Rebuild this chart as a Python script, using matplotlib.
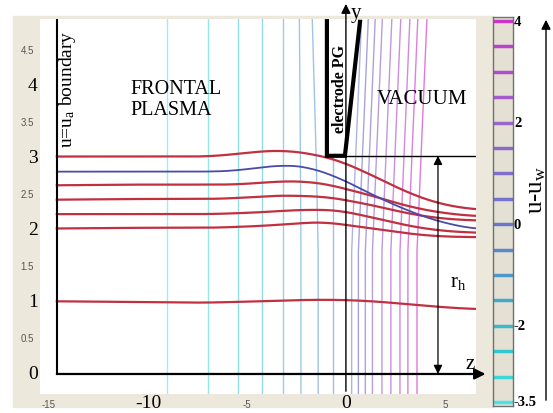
import numpy as np
import matplotlib
matplotlib.use("Agg")
import matplotlib.pyplot as plt
from matplotlib.patches import Rectangle, FancyArrowPatch
from matplotlib.colors import LinearSegmentedColormap, Normalize

plt.rcParams['font.family'] = ['Liberation Serif', 'DejaVu Serif']
plt.rcParams['mathtext.fontset'] = 'custom'
plt.rcParams['mathtext.rm'] = 'Liberation Serif'
plt.rcParams['mathtext.it'] = 'Liberation Serif:italic'

# ---------------- data ----------------
# sample positions along z for the beam-boundary lines
line_z = [-14.6, -11.0, -7.0, -5.7, -4.0, -3.0, -2.0, -1.0, -0.3, 1.4, 3.1, 4.75, 6.57]
line_top = [3.02, 3.02, 3.02, 3.05, 3.10, 3.10, 3.07, 3.01, 2.96, 2.75, 2.52, 2.36, 2.28]
line_blue = [2.81, 2.81, 2.81, 2.82, 2.88, 2.90, 2.88, 2.79, 2.72, 2.48, 2.27, 2.11, 2.01]
line_26 = [2.62, 2.63, 2.63, 2.63, 2.66, 2.68, 2.67, 2.64, 2.59, 2.47, 2.33, 2.24, 2.19]
line_24 = [2.42, 2.43, 2.43, 2.44, 2.47, 2.48, 2.47, 2.46, 2.43, 2.34, 2.23, 2.16, 2.13]
line_22 = [2.22, 2.22, 2.22, 2.23, 2.25, 2.27, 2.28, 2.28, 2.27, 2.17, 2.06, 1.99, 1.96]
line_20 = [2.02, 2.03, 2.03, 2.04, 2.06, 2.08, 2.10, 2.11, 2.08, 2.02, 1.95, 1.91, 1.90]
line_10 = [1.01, 1.00, 0.99, 1.00, 1.01, 1.02, 1.03, 1.03, 1.03, 1.01, 0.97, 0.93, 0.90]

# equipotential lines: z at bottom, at y=3 and at top, top end y, potential level
contour_z_bottom = [-9.06, -6.95, -5.44, -4.23, -3.20, -2.27, -1.40, -0.64,
                    0.29, 0.63, 0.98, 1.34, 1.82, 2.27, 2.73, 3.13, 3.59]
contour_z_mid = [-9.06, -6.95, -5.44, -4.23, -3.20, -2.30, -1.50, -0.64,
                 0.49, 0.83, 1.18, 1.54, 2.02, 2.47, 2.93, 3.33, 3.79]
contour_z_top = [-9.06, -6.95, -5.44, -4.23, -3.20, -2.35, -1.70, -0.64,
                 0.79, 1.13, 1.48, 1.84, 2.32, 2.77, 3.23, 3.63, 4.09]
contour_y_top = [4.93, 4.93, 4.93, 4.93, 4.93, 4.93, 4.93, 3.03,
                 4.93, 4.93, 4.93, 4.93, 4.93, 4.93, 4.93, 4.93, 4.93]
contour_levels = [-3.5, -3.0, -2.5, -2.0, -1.6, -1.2, -0.8, -0.4,
                  0.2, 0.7, 1.2, 1.7, 2.2, 2.7, 3.2, 3.6, 4.0]

electrode_z = [-0.96, -0.96, -0.05, 0.71]
electrode_y = [4.90, 3.03, 3.03, 4.89]

cbar_levels = [4.0, 3.5, 3.0, 2.5, 2.0, 1.5, 1.0, 0.5, 0.0, -0.5, -1.0,
               -1.5, -2.0, -2.5, -3.0, -3.5]
cbar_labels = ['4', '2', '0', '-2', '-3.5']
cbar_label_vals = [4, 2, 0, -2, -3.5]

big_y_ticks = [4, 3, 2, 1, 0]
small_y_ticks = [4.5, 3.5, 2.5, 1.5, 0.5]
big_x_ticks = [-10, 0]
small_x_ticks = [-15, -5, 5]

# ---------------- figure ----------------
W, H = 553, 414
fig = plt.figure(figsize=(W / 100, H / 100), dpi=100)

def fx(px):
    return px / W

def fy(py):
    return 1 - py / H

# beige frame
fig.patches.append(Rectangle((fx(13), fy(408)), fx(493) - fx(13), fy(17) - fy(408),
                             transform=fig.transFigure, color='#ece9dc', zorder=-5))

ax = fig.add_axes([fx(40), fy(395), fx(476) - fx(40), fy(20) - fy(395)])
ax.set_zorder(1)
ax.set_facecolor('white')
for s in ax.spines.values():
    s.set_visible(False)
ax.set_xticks([])
ax.set_yticks([])
ZMIN, ZMAX, YMIN, YMAX = -15.45, 6.57, -0.278, 4.93
ax.set_xlim(ZMIN, ZMAX)
ax.set_ylim(YMIN, YMAX)

cmap = LinearSegmentedColormap.from_list(
    'uw', [(0.0, '#44e6e6'), (0.133, '#33c8cc'), (0.267, '#44a8cc'),
           (0.467, '#6677cc'), (0.733, '#9966cc'), (1.0, '#cc33cc')])
norm = Normalize(-3.5, 4.0)

def light(c, f):
    c = np.array(c[:3])
    return tuple(1 - f * (1 - c))

# equipotential lines
for zb, zm, zt, yt, lv in zip(contour_z_bottom, contour_z_mid, contour_z_top,
                              contour_y_top, contour_levels):
    col = light(cmap(norm(lv)), 0.55 if lv < 0.5 else 0.65)
    if yt < 4:
        ax.plot([zb, zb], [YMIN, yt], color=col, lw=1.0, zorder=2)
    else:
        ax.plot([zb, zb, zm, zt], [YMIN, 1.7, 3.0, yt], color=col, lw=1.0, zorder=2)

# beam lines (smoothed)
zf = np.linspace(line_z[0], line_z[-1], 600)
def smooth(vals):
    yf = np.interp(zf, line_z, vals)
    k = 25
    pad = np.concatenate([np.full(k, yf[0]), yf, np.full(k, yf[-1])])
    ker = np.ones(2 * k + 1) / (2 * k + 1)
    return np.convolve(pad, ker, mode='valid')

for vals in [line_top, line_26, line_24, line_22, line_20, line_10]:
    ax.plot(zf, smooth(vals), color='#c03040', lw=1.6, zorder=4)
ax.plot(zf, smooth(line_blue), color='#4a4aa8', lw=1.3, zorder=4)

# boundary line
ax.plot([-14.6, -14.6], [0, YMAX], color='k', lw=1.5, zorder=5)

# electrode
ax.plot(electrode_z, electrode_y, color='k', lw=3, solid_joinstyle='miter', zorder=6)
ax.plot([electrode_z[2], ZMAX], [3.03, 3.03], color='k', lw=1.0, zorder=6)

# axes arrows
ax.annotate('', xy=(7.05, 0), xytext=(-14.6, 0), annotation_clip=False,
            arrowprops=dict(arrowstyle='-|>', color='k', lw=1.6, mutation_scale=16,
                            shrinkA=0, shrinkB=0), zorder=7)
ax.annotate('', xy=(0, 5.14), xytext=(0, -0.24), annotation_clip=False,
            arrowprops=dict(arrowstyle='-|>', color='k', lw=1.0, mutation_scale=14,
                            shrinkA=0, shrinkB=0), zorder=7)
ax.annotate('', xy=(4.65, 3.03), xytext=(4.65, 0.0), annotation_clip=False,
            arrowprops=dict(arrowstyle='<|-|>', color='k', lw=0.9, mutation_scale=13,
                            shrinkA=0, shrinkB=0), zorder=7)

# texts
ax.text(-14.05, 3.97, r'u=u$_{\mathrm{a}}$ boundary', rotation=90, ha='center', va='center',
        fontsize=14)
ax.text(-10.9, 3.82, 'FRONTAL\nPLASMA', ha='left', va='center', fontsize=14.5,
        linespacing=1.15)
ax.text(1.55, 3.83, 'VACUUM', ha='left', va='center', fontsize=15)
ax.text(-0.32, 3.97, 'electrode PG', rotation=90, ha='center', va='center',
        fontsize=11.5, fontweight='bold')
ax.text(0.5, 5.02, 'y', ha='center', va='center', fontsize=15, clip_on=False)
ax.text(6.25, 0.15, 'z', ha='center', va='center', fontsize=15, clip_on=False)
ax.text(5.65, 1.28, r'r$_{\mathrm{h}}$', ha='center', va='center', fontsize=15)

# tick labels
for v in big_y_ticks:
    ax.text(-15.81, v, str(v), ha='center', va='center', fontsize=14, clip_on=False)
for v in small_y_ticks:
    ax.text(-16.1, v, str(v), ha='center', va='center', fontsize=7,
            family='Liberation Sans', color='#555555', clip_on=False)
for v in big_x_ticks:
    ax.text(v, -0.39, str(v), ha='center', va='center', fontsize=14, clip_on=False)
for v in small_x_ticks:
    ax.text(v, -0.42, str(v), ha='center', va='center', fontsize=7,
            family='Liberation Sans', color='#555555', clip_on=False)

# colour bar
cax = fig.add_axes([fx(493), fy(407), fx(513) - fx(493), fy(18) - fy(407)])
cax.set_zorder(1)
cax.set_facecolor('#e4e1d4')
for s in cax.spines.values():
    s.set_color('#707070')
    s.set_linewidth(1.0)
cax.set_xticks([])
cax.set_yticks([])
cax.set_xlim(0, 1)
cax.set_ylim(-3.58, 4.08)
for lv in cbar_levels:
    cax.plot([0, 1], [lv, lv], color=cmap(norm(lv)), lw=2.5, solid_capstyle='butt')
for lab, v in zip(cbar_labels, cbar_label_vals):
    cax.text(1.05, v, lab, transform=cax.get_yaxis_transform(), ha='left', va='center',
             fontsize=10.5, fontweight='bold', clip_on=False)

fig.patches.append(FancyArrowPatch(
    (fx(546), fy(404)), (fx(546), fy(18)), transform=fig.transFigure,
    arrowstyle='-|>', mutation_scale=14, color='k', lw=1.0))
fig.text(fx(537), fy(190), r'u-u$_{\mathrm{w}}$', rotation=90, ha='center', va='center',
         fontsize=18)

fig.savefig('out.png', dpi=100)
